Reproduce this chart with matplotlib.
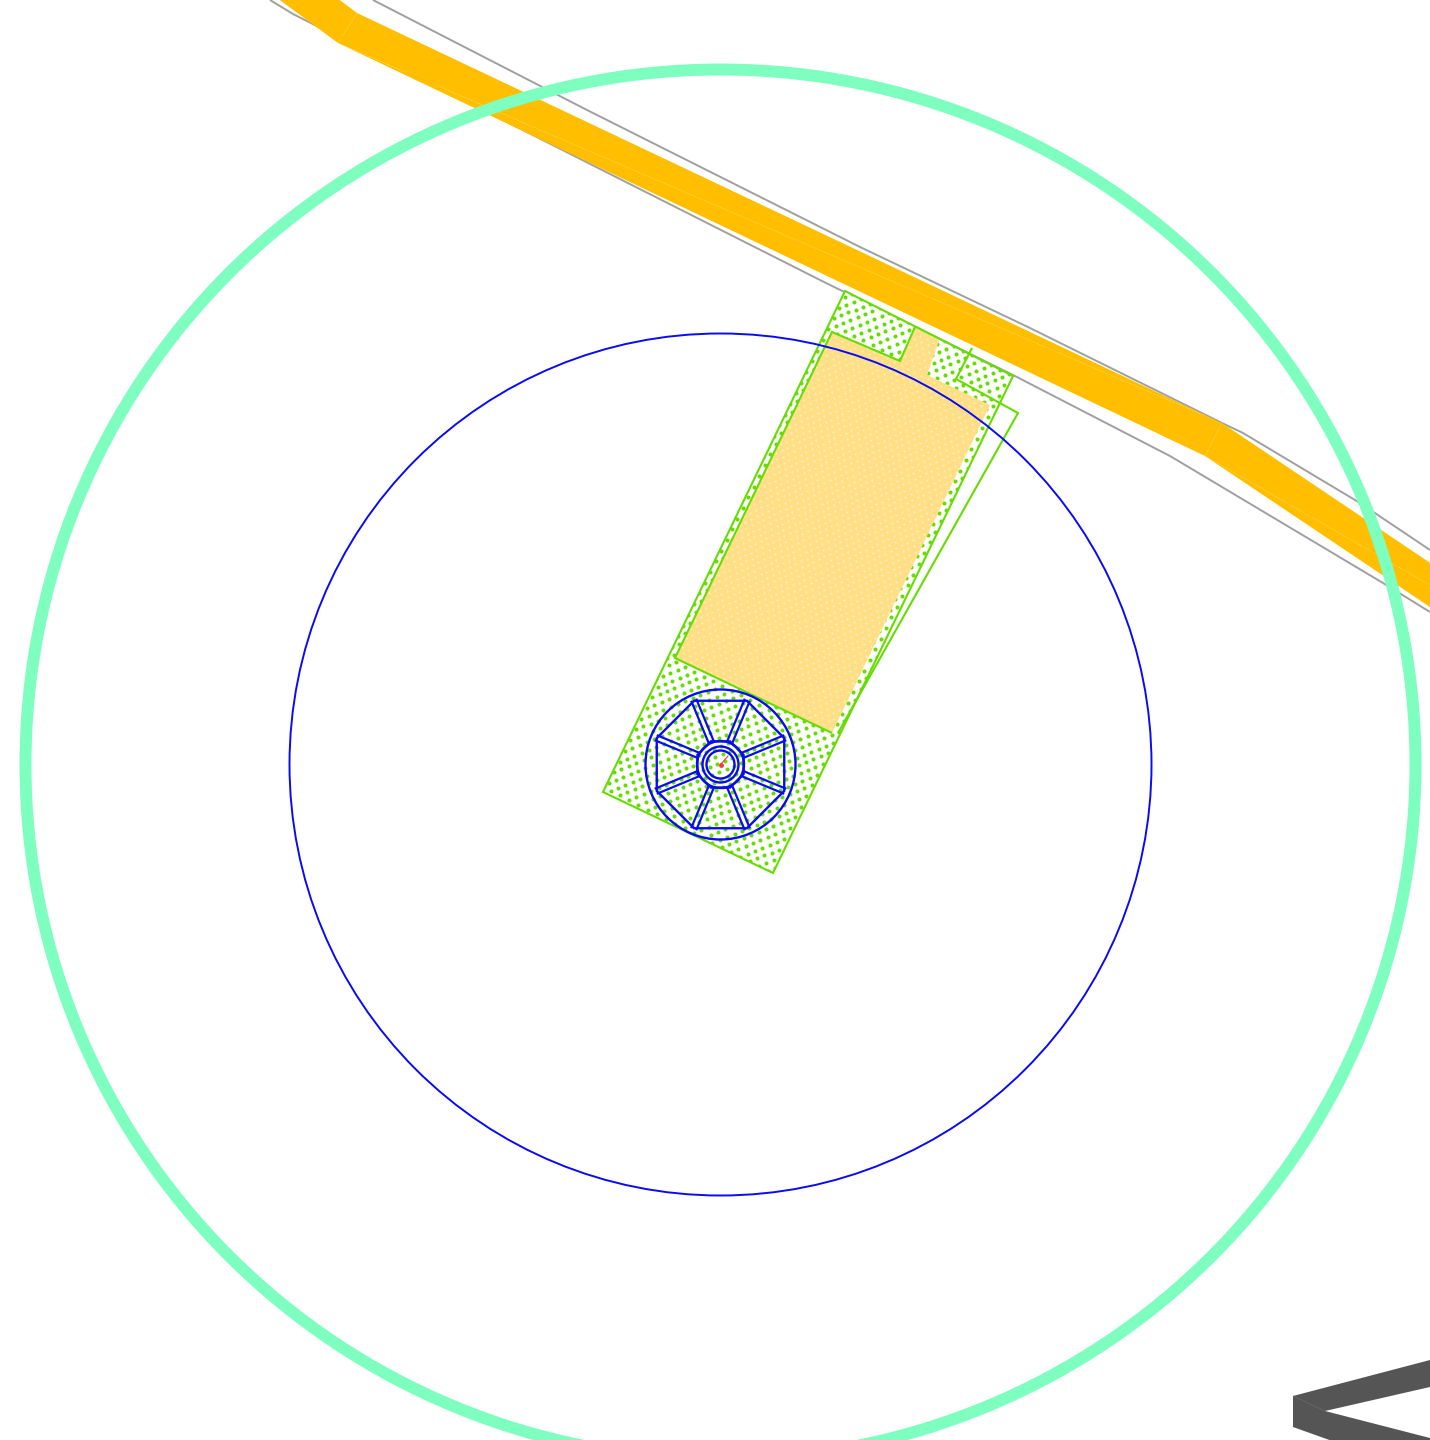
"""Site plan style drawing: rings, plot outline, wheel and road band, in pixel coords."""
import numpy as np
import matplotlib
matplotlib.use("Agg")
import matplotlib.pyplot as plt
from matplotlib.patches import Circle, Polygon

WIDTH, HEIGHT = 1430, 1440
CENTER = (720.5, 764.5)

BLUE = "#0A0AF5"
GREEN = "#66DD00"
AQUA = "#7FFFBF"
ORANGE = "#FFBF00"
YELLOW = "#FFDF85"
GRAY = "#A0A0A0"
DARK = "#555555"

# ---- outlines ---------------------------------------------------------
ring_outer_radius = 695
ring_inner_radius = 431

# band pieces are triangles, the faint diagonals in the reference are their seams
road_triangles = [
    [(329, -8), (357, 13), (338, 43), (269, -8)],
    [(357, 13), (1222, 423), (338, 43)],
    [(1222, 423), (1205, 456), (338, 43)],
    [(1222, 423), (1658, 716), (1205, 456)],
    [(1658, 716), (1640, 748), (1205, 456)],
]
edge_upper = [(373, 0), (587, 110), (860, 247), (1030, 328), (1222, 423), (1243, 433),
              (1360, 503), (1430, 550)]
edge_lower = [(270, 0), (293, 14), (822, 281), (1013, 375), (1170, 456), (1383, 583), (1430, 612)]

plot_rect = [(603, 792), (845, 291), (1013, 376), (773, 873)]
yellow_area = [(832, 332), (900, 361), (915, 327), (940, 338), (927, 375), (990, 405),
               (832, 733), (675, 658)]
green_inner = [(832, 733), (675, 658), (832, 332), (900, 361), (915, 327)]
green_annex = [(972, 348), (956, 379), (1018, 413), (838, 733)]
dark_shape = [(1430, 1360), (1293, 1396), (1293, 1427), (1335, 1442), (1430, 1442),
              (1430, 1438), (1325, 1411), (1430, 1387)]
dark_seam = [(1293, 1396), (1325, 1411)]

# wheel: radii in px, spokes on the octagon corners
wheel_rim = 75
wheel_octagon = 69
hub_octagon = 25
hub_radii = [23.5, 18, 14]
spoke_half_width = 2.7
corner_angles = [22.5, 67.5, 112.5, 157.5, 202.5, 247.5, 292.5, 337.5]
needle_tip = (728, 756)


def staggered_dots(x0, x1, y0, y1, pitch, row, angle):
    # fill texture only: a rotated staggered grid, clipped to its shape afterwards
    a = np.deg2rad(angle)
    span = int(max(x1 - x0, y1 - y0) / min(pitch, row)) + 4
    cx, cy = (x0 + x1) / 2, (y0 + y1) / 2
    xs, ys = [], []
    for j in range(-span, span):
        off = pitch / 2 if j % 2 else 0
        u = np.arange(-span, span) * pitch + off
        v = np.full_like(u, j * row, dtype=float)
        xs.append(cx + u * np.cos(a) - v * np.sin(a))
        ys.append(cy + u * np.sin(a) + v * np.cos(a))
    return np.concatenate(xs), np.concatenate(ys)


def polar(r, deg):
    t = np.deg2rad(deg)
    return CENTER[0] + r * np.cos(t), CENTER[1] + r * np.sin(t)


def polyline(ax, pts, color, lw, z):
    ax.plot([p[0] for p in pts], [p[1] for p in pts], color=color, lw=lw, zorder=z,
            solid_joinstyle="miter", solid_capstyle="butt")


fig = plt.figure(figsize=(WIDTH / 100, HEIGHT / 100), dpi=100)
ax = fig.add_axes([0, 0, 1, 1])
ax.set_xlim(0, WIDTH)
ax.set_ylim(HEIGHT, 0)
ax.axis("off")

# ---- road -------------------------------------------------------------
polyline(ax, edge_upper, GRAY, 1.4, 1)
polyline(ax, edge_lower, GRAY, 1.4, 1)
for tri in road_triangles:
    ax.add_patch(Polygon(tri, closed=True, facecolor=ORANGE, edgecolor="none", zorder=2))

# ---- plot with dotted fill ---------------------------------------------
plot_patch = Polygon(plot_rect, closed=True, facecolor="white", edgecolor="none", zorder=3)
ax.add_patch(plot_patch)
dx, dy = staggered_dots(600, 1020, 285, 880, 10.4, 6.0, 27)
dots = ax.scatter(dx, dy, s=8.5, color=GREEN, linewidths=0, zorder=4)
dots.set_clip_path(plot_patch)

yellow_patch = Polygon(yellow_area, closed=True, facecolor=YELLOW, edgecolor="none", zorder=5)
ax.add_patch(yellow_patch)
wx, wy = staggered_dots(670, 995, 325, 740, 7.5, 5.0, 27)
speck = ax.scatter(wx, wy, s=2.5, color="#FFECBC", linewidths=0, zorder=6)
speck.set_clip_path(yellow_patch)

ax.add_patch(Polygon(plot_rect, closed=True, facecolor="none", edgecolor=GREEN, lw=1.5, zorder=7))
polyline(ax, green_inner, GREEN, 1.5, 7)
polyline(ax, green_annex, GREEN, 1.5, 7)

# ---- rings ------------------------------------------------------------
ax.add_patch(Circle(CENTER, ring_outer_radius, facecolor="none", edgecolor=AQUA, lw=8.6, zorder=9))
ax.add_patch(Circle(CENTER, ring_inner_radius, facecolor="none", edgecolor=BLUE, lw=1.4, zorder=8))

# ---- wheel ------------------------------------------------------------
ax.add_patch(Circle(CENTER, wheel_rim, facecolor="none", edgecolor=BLUE, lw=1.7, zorder=8))
for radius in [wheel_octagon, hub_octagon]:
    corners = [polar(radius, a) for a in corner_angles]
    ax.add_patch(Polygon(corners, closed=True, facecolor="none", edgecolor=BLUE, lw=1.7, zorder=8))
for radius in hub_radii:
    ax.add_patch(Circle(CENTER, radius, facecolor="none", edgecolor=BLUE, lw=1.7, zorder=8))
for a in corner_angles:
    t = np.deg2rad(a)
    nx, ny = -np.sin(t) * spoke_half_width, np.cos(t) * spoke_half_width
    for s in (-1, 1):
        p0 = polar(hub_octagon, a)
        p1 = polar(wheel_octagon, a)
        ax.plot([p0[0] + s * nx, p1[0] + s * nx], [p0[1] + s * ny, p1[1] + s * ny],
                color=BLUE, lw=1.6, zorder=8)

ax.plot([CENTER[0], needle_tip[0]], [CENTER[1], needle_tip[1]], color="#FF3344", lw=0.8, zorder=10)
ax.scatter([CENTER[0]], [CENTER[1]], s=12, color="#FF3344", linewidths=0, zorder=10)

# ---- dark shape bottom right -------------------------------------------
ax.add_patch(Polygon(dark_shape, closed=True, facecolor=DARK, edgecolor="none", zorder=3))
polyline(ax, dark_seam, "#6A6A6A", 0.5, 4)

fig.savefig("out.png", dpi=100)
